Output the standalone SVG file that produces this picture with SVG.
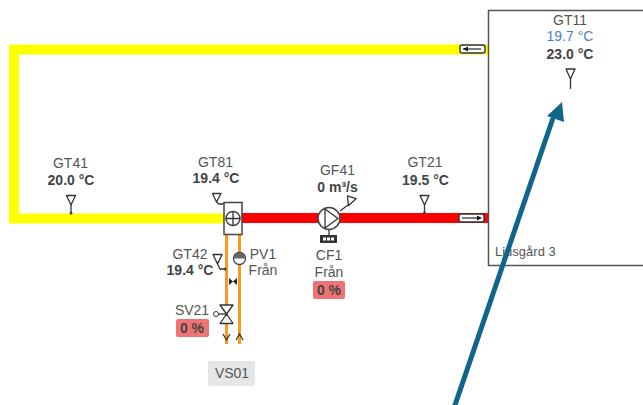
<svg xmlns="http://www.w3.org/2000/svg" width="643" height="405" viewBox="0 0 643 405">
<style>
text{font-family:"Liberation Sans",Arial,sans-serif;font-size:14px;fill:#555;text-anchor:middle}
.b{font-weight:bold;fill:#444}
.blue{fill:#4a7fc4}
.sym{fill:#fff;stroke:#333;stroke-width:1.300;stroke-linejoin:round}
.ln{fill:none;stroke:#333;stroke-width:1.300}
.alarm{fill:#ee7474}
</style>
<defs>
<g id="sensor"><path class="sym" d="M-4.500 -9.500H4.500L0 0Z"/><path class="ln" d="M0 0V8"/><circle cx="0" cy="8" r="1.500" fill="#444"/></g>
<g id="flow"><rect x="0" y="0" width="25" height="8" rx="2" fill="#fff" stroke="#333" stroke-width="1.400"/><path class="ln" d="M3 4H21"/></g>
</defs>
<g id="connectors">
<path d="M224 49.500H14V218.500H224" fill="none" stroke="#ffff00" stroke-width="10"/>
<path d="M224 49.500H488" fill="none" stroke="#ffff00" stroke-width="10"/>
<path d="M242 218H488" fill="none" stroke="#ff0000" stroke-width="10"/>
<path d="M226.500 235V344M239.500 235V344" fill="none" stroke="#f59a1e" stroke-width="3"/>
<path class="ln" d="M223 334L226.500 340L230 334M236 340L239.500 334L243 340"/>
</g>
<g id="room">
<rect x="488.500" y="10.500" width="170" height="255" fill="#fff" stroke="#555" stroke-width="1.500"/>
<text x="495" y="256" style="text-anchor:start;font-size:13px">Ljusgård 3</text>
</g>
<g id="flow-return"><use href="#flow" x="460" y="45"/><path d="M463 49L468 46.500V51.500Z" fill="#111"/></g>
<g id="flow-supply"><use href="#flow" x="459" y="214"/><path d="M482 218L477 215.500V220.500Z" fill="#111"/></g>
<g id="GT11"><text x="570" y="25">GT11</text><text x="570" y="41" class="blue">19.7 °C</text><text x="570" y="59" class="b">23.0 °C</text>
<path class="sym" d="M566 69H575L570.500 79Z"/><path class="ln" d="M570.500 79V89"/></g>
<g id="GT41"><text x="70.500" y="168">GT41</text><text x="71" y="185" class="b">20.0 °C</text><use href="#sensor" x="71" y="205"/></g>
<g id="GT81"><text x="215.500" y="167">GT81</text><text x="216" y="183" class="b">19.4 °C</text>
<path class="sym" d="M212.500 193.500H221L216.500 202Z"/><path class="ln" d="M216.500 202L219 204H224"/></g>
<g id="mixer"><rect x="224" y="202.500" width="18" height="32" fill="#fff" stroke="#444" stroke-width="1.500"/>
<circle cx="233" cy="218.500" r="7" fill="none" stroke="#444" stroke-width="1.500"/><path class="ln" d="M226 218.500H240M233 211.500V225.500"/></g>
<g id="GT21"><text x="425" y="167">GT21</text><text x="425.500" y="185" class="b">19.5 °C</text><use href="#sensor" x="424.500" y="205"/></g>
<g id="GF41"><text x="337.500" y="175">GF41</text><text x="337.500" y="192" class="b">0 m³/s</text>
<path class="sym" d="M346 197H355L350 206Z" transform="rotate(18 350 201)"/><path class="ln" d="M348 205L340 211"/></g>
<g id="CF1"><circle cx="329" cy="218.500" r="11" fill="#fff" stroke="#444" stroke-width="1.500"/><path class="ln" d="M325 209L338 218.500L325 228Z"/>
<path class="ln" d="M329 229.500V235"/><rect x="320" y="235" width="17" height="8" fill="#333"/><path d="M323 239H334" stroke="#fff" stroke-width="3" stroke-dasharray="3 1"/>
<text x="329" y="260">CF1</text><text x="329" y="277">Från</text>
<rect class="alarm" x="313" y="281" width="32" height="18" rx="2"/><text x="329" y="295" class="b">0 %</text></g>
<g id="GT42"><text x="190" y="259">GT42</text><text x="190" y="275" class="b">19.4 °C</text>
<path class="sym" d="M213 254.500H222L217.500 264Z"/><path class="ln" d="M217.500 264L220 269H224"/><circle cx="225" cy="269" r="1.500" fill="#444"/></g>
<g id="PV1"><circle cx="239.500" cy="258.500" r="6" fill="#fff" stroke="#444" stroke-width="1.300"/><path d="M234 258.500A5.500 5.500 0 0 1 245 258.500Z" fill="#666"/>
<text x="263" y="259">PV1</text><text x="263" y="275">Från</text></g>
<g id="valve"><path d="M229 278L233 281.500L229 285ZM237 278L233 281.500L237 285Z" fill="#222"/></g>
<g id="SV21"><path class="sym" d="M220 305H233L226.500 314L233 323.500H220L226.500 314Z"/><path class="ln" d="M226.500 314H216"/><circle cx="216" cy="314" r="2.500" fill="#fff" stroke="#333"/>
<text x="192" y="315">SV21</text><rect class="alarm" x="176" y="319" width="33" height="18" rx="2"/><text x="192" y="333" class="b">0 %</text></g>
<g id="VS01"><rect x="208" y="361" width="47" height="25" rx="2" fill="#e6e6e6"/><text x="232" y="378">VS01</text></g>
<g id="pointer"><path d="M454 408L553 118" stroke="#12658a" stroke-width="5" fill="none"/><path d="M562 102L564 122L547 116Z" fill="#12658a"/></g>
</svg>
